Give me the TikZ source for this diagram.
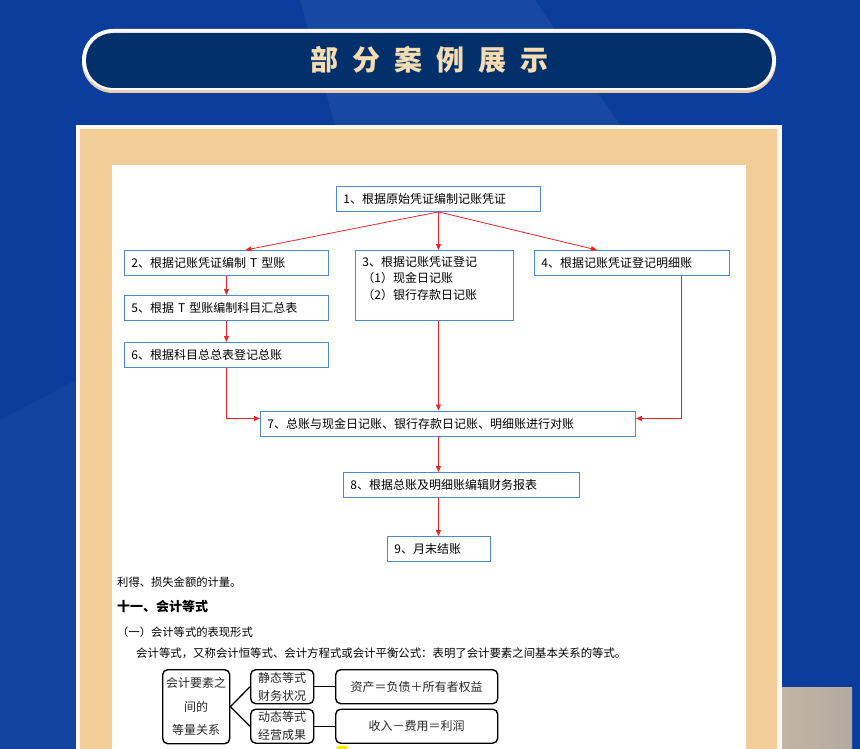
\documentclass[tikz,border=0pt]{standalone}
\usepackage{fontspec}
\newfontfamily\cjk{Noto Sans CJK SC}
\usetikzlibrary{arrows.meta, calc, positioning}

\definecolor{bgblue}{HTML}{0A3D9C}
\definecolor{navy}{HTML}{02306A}
\definecolor{titletan}{HTML}{E6CDAE}
\definecolor{titlecream}{HTML}{F6DCB2}
\definecolor{paneltan}{HTML}{F2CD97}
\definecolor{boxblue}{HTML}{4F88C6}
\definecolor{arrowred}{HTML}{E8262B}
\definecolor{greyleft}{HTML}{C3B4A3}
\definecolor{greyright}{HTML}{B3AAA2}

\newcommand{\flowfont}{\cjk\fontsize{12}{16.5}\selectfont}
\newcommand{\bodyfont}{\cjk\fontsize{11.3}{13}\selectfont}

\tikzset{
  process/.style={rectangle, draw=boxblue, line width=0.9pt, fill=white, minimum height=25pt, inner xsep=7pt, inner ysep=0pt, anchor=north west, align=left, font=\flowfont},
  arrow/.style={draw=arrowred, line width=0.8pt, -{Triangle[length=6pt,width=5pt]}},
  bodytext/.style={anchor=base west, inner sep=0pt, font=\bodyfont},
  relbox/.style={rectangle, draw=black, rounded corners=5pt, line width=1.4pt, anchor=north west, inner sep=0pt, align=center, text=black!85, font=\cjk\fontsize{12}{18}\selectfont},
  link/.style={draw=black, line width=1.3pt}
}

\begin{document}
\begin{tikzpicture}[x=1pt, y=-1pt]
  \useasboundingbox (0,0) rectangle (860,749);
  % background
  \fill[bgblue] (0,0) rectangle (860,749);
  \fill[white, opacity=0.06] (300,0) -- (535,0) -- (620,125) -- (335,125) -- cycle;
  \fill[white, opacity=0.03] (0,420) -- (76,380) -- (76,749) -- (0,749) -- cycle;
  \shade[left color=greyleft, right color=greyright] (781,687) rectangle (852,749);

  % title bar
  \fill[titletan, rounded corners=31pt] (82,32) rectangle (776,93);
  \fill[white, rounded corners=31pt] (82,29) rectangle (776,90);
  \fill[navy, rounded corners=27pt] (86,33) rectangle (772,88);
  \node (title) [font=\cjk\bfseries\fontsize{28}{30}\selectfont, text=titlecream] at (429,60) {部\hspace{14pt}分\hspace{14pt}案\hspace{14pt}例\hspace{14pt}展\hspace{14pt}示};

  % panel
  \fill[white!95!orange] (76,125) rectangle (782,749);
  \fill[paneltan] (80,129) rectangle (777,749);
  \fill[white] (112,165) rectangle (746,749);

  % flow chart
  \node (make1) [process, text width=190pt] at (336,186) {1、根据原始凭证编制记账凭证};
  \node (tacc2) [process, text width=190pt] at (124,250) {2、根据记账凭证编制 T 型账};
  \node (reg3) [process, text width=144pt, text height=16pt, text depth=54pt] at (355,250) {3、根据记账凭证登记\\（1）现金日记账\\（2）银行存款日记账};
  \node (detail4) [process, text width=181pt] at (534,250) {4、根据记账凭证登记明细账};
  \node (summ5) [process, text width=190pt] at (124,295) {5、根据 T 型账编制科目汇总表};
  \node (ledger6) [process, text width=190pt] at (124,342) {6、根据科目总总表登记总账};
  \node (check7) [process, text width=361pt] at (260,410.5) {7、总账与现金日记账、银行存款日记账、明细账进行对账};
  \node (report8) [process, text width=222pt] at (343,472) {8、根据总账及明细账编辑财务报表};
  \node (close9) [process, text width=89pt] at (387,536) {9、月末结账};

  \draw [arrow] (make1.south) -- ([xshift=19pt]tacc2.north);
  \draw [arrow] (make1.south) -- (make1.south |- reg3.north);
  \draw [arrow] (make1.south) -- ([xshift=-35pt]detail4.north);
  \draw [arrow] (tacc2) -- (summ5);
  \draw [arrow] (summ5) -- (ledger6);
  \draw [arrow] (ledger6.south) |- ([yshift=5pt]check7.west);
  \draw [arrow] (make1.south |- reg3.south) -- (make1.south |- check7.north);
  \draw [arrow] ([xshift=49pt]detail4.south) |- ([yshift=5pt]check7.east);
  \draw [arrow] (make1.south |- check7.south) -- (make1.south |- report8.north);
  \draw [arrow] (make1.south |- report8.south) -- (make1.south |- close9.north);

  % text below
  \node (gain) [bodytext] at (117,586) {利得、损失金额的计量。};
  \node (sec11) [bodytext, font=\cjk\bfseries\fontsize{13}{15}\selectfont] at (117,611) {十一、会计等式};
  \node (form1) [bodytext] at (117,636) {（一）会计等式的表现形式};
  \node (defn) [bodytext, font=\cjk\fontsize{11.4}{13}\selectfont] at (136,657) {会计等式，又称会计恒等式、会计方程式或会计平衡公式：表明了会计要素之间基本关系的等式。};

  % equation chart
  \node (rel) [relbox, minimum width=67pt, minimum height=74pt, font=\cjk\fontsize{12}{23.5}\selectfont] at (162,669) {会计要素之\\间的\\等量关系};
  \node (static) [relbox, minimum width=63pt, minimum height=34pt] at (250,669) {静态等式\\财务状况};
  \node (dynamic) [relbox, minimum width=63pt, minimum height=34pt] at (250,708.5) {动态等式\\经营成果};
  \node (eqa) [relbox, minimum width=162pt, minimum height=34pt] at (335,669) {资产＝负债＋所有者权益};
  \node (eqb) [relbox, minimum width=162pt, minimum height=34pt] at (335,708.5) {收入－费用＝利润};
  \draw [link] (rel.east) -- (static.west);
  \draw [link] (rel.east) -- (dynamic.west);
  \draw [link] (static) -- (eqa);
  \draw [link] (dynamic) -- (eqb);
  \fill[yellow!90!orange] (342,747.5) ellipse (6pt and 2pt);
\end{tikzpicture}
\end{document}
